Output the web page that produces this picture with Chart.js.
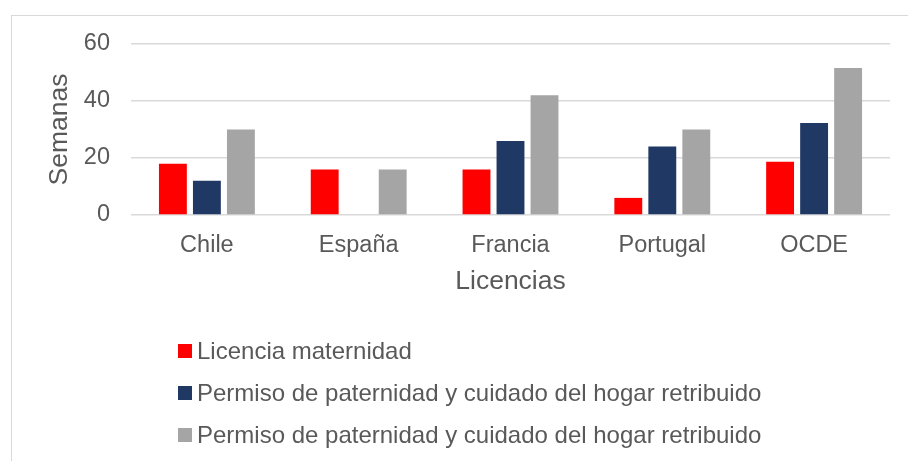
<!DOCTYPE html>
<html>
<head>
<meta charset="utf-8">
<script src="https://cdn.jsdelivr.net/npm/chart.js@4.4.1/dist/chart.umd.min.js"></script>
<style>
  html, body { margin: 0; padding: 0; background: #ffffff; }
  #wrap { position: relative; width: 908px; height: 461px; overflow: hidden; }
  #frame { position: absolute; left: 11px; top: 15px; width: 960px; height: 520px; border: 1px solid #d9d9d9; box-sizing: border-box; }
  #chart { position: absolute; left: 0; top: 0; }
</style>
</head>
<body>
<div id="wrap">
  <div id="frame"></div>
  <canvas id="chart" width="908" height="461"></canvas>
</div>
<script>
// Data
const categories = ['Chile', 'España', 'Francia', 'Portugal', 'OCDE'];
const maternidad = [18, 16, 16, 6, 18.7];
const paternidadPagado = [12, null, 26, 24, 32.3];
const paternidadTotal = [30, 16, 42, 30, 51.6];
const seriesNames = [
    'Licencia maternidad',
    'Permiso de paternidad y cuidado del hogar retribuido',
    'Permiso de paternidad y cuidado del hogar retribuido'
];
const yTicks = [0, 20, 40, 60];

const TEXT = '#595959';
const FONT = "'Liberation Sans', Arial, sans-serif";
const colors = ['#ff0000', '#203864', '#a5a5a5'];

// legend drawn as a vertical list under the axis title
const listLegend = {
    id: 'listLegend',
    afterDraw(chart) {
        const ctx = chart.ctx;
        ctx.save();
        ctx.font = '24px ' + FONT;
        ctx.textBaseline = 'middle';
        ctx.textAlign = 'left';
        chart.data.datasets.forEach((ds, i) => {
            const y = 351 + i * 42;
            ctx.fillStyle = ds.backgroundColor;
            ctx.fillRect(178, y - 7, 14, 14);
            ctx.fillStyle = TEXT;
            ctx.fillText(ds.label, 197, y + 1);
        });
        ctx.restore();
    }
};

const barDefaults = { categoryPercentage: 0.672, barPercentage: 0.82, borderWidth: 0 };

new Chart(document.getElementById('chart'), {
    type: 'bar',
    data: {
        labels: categories,
        datasets: [
            { label: seriesNames[0], data: maternidad, backgroundColor: colors[0], ...barDefaults },
            { label: seriesNames[1], data: paternidadPagado, backgroundColor: colors[1], ...barDefaults },
            { label: seriesNames[2], data: paternidadTotal, backgroundColor: colors[2], ...barDefaults }
        ]
    },
    options: {
        responsive: false,
        animation: false,
        layout: { padding: { left: 12, top: 44, right: 18, bottom: 161 } },
        plugins: {
            legend: { display: false },
            tooltip: { enabled: false }
        },
        scales: {
            x: {
                grid: { display: false, drawTicks: false },
                border: { display: false },
                ticks: { color: TEXT, font: { family: FONT, size: 23.5 }, padding: 16 },
                title: {
                    display: true, text: 'Licencias', color: TEXT,
                    font: { family: FONT, size: 26.5 }, padding: { top: 0, bottom: 2 }
                },
                afterFit: s => { s.height = 85; }
            },
            y: {
                min: 0, max: 60,
                afterBuildTicks: s => { s.ticks = yTicks.map(v => ({ value: v })); },
                grid: { color: '#d9d9d9', lineWidth: 1.5, drawTicks: false },
                border: { display: false },
                ticks: { color: TEXT, font: { family: FONT, size: 23.5 }, padding: 21 },
                title: {
                    display: true, text: 'Semanas', color: TEXT,
                    font: { family: FONT, size: 26.5 }, padding: { top: 32, bottom: 0 }
                },
                afterFit: s => { s.width = 119; }
            }
        }
    },
    plugins: [listLegend]
});
</script>
</body>
</html>
